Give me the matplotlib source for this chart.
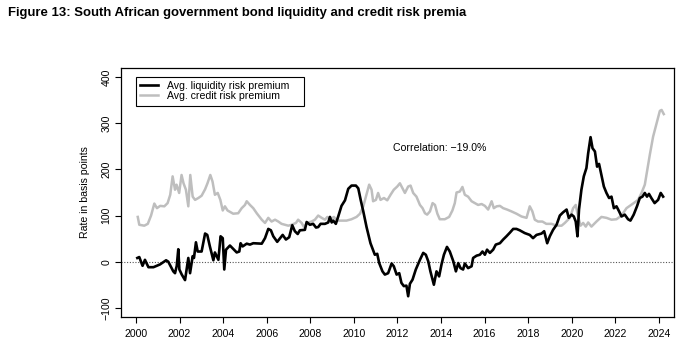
import matplotlib.pyplot as plt
from matplotlib.patches import Rectangle

plt.rcParams['font.family'] = ['Liberation Sans', 'DejaVu Sans']

# Average liquidity risk premium (bp)
liq_dates = [2000.06, 2000.15, 2000.30, 2000.41, 2000.57, 2000.80, 2001.10, 2001.38, 2001.48, 2001.71,
             2001.79, 2001.87, 2001.94, 2001.99, 2002.10, 2002.25, 2002.40, 2002.48, 2002.60, 2002.66,
             2002.75, 2002.83, 2003.01, 2003.17, 2003.27, 2003.39, 2003.55, 2003.62, 2003.78, 2003.88,
             2003.98, 2004.05, 2004.13, 2004.31, 2004.62, 2004.74, 2004.80, 2004.89, 2005.08, 2005.23,
             2005.38, 2005.77, 2005.92, 2006.07, 2006.19, 2006.30, 2006.48, 2006.73, 2006.88, 2007.03,
             2007.17, 2007.29, 2007.42, 2007.52, 2007.75, 2007.83, 2007.98, 2008.13, 2008.26, 2008.36,
             2008.47, 2008.67, 2008.82, 2008.90, 2008.98, 2009.05, 2009.17, 2009.28, 2009.43, 2009.59,
             2009.74, 2009.89, 2010.09, 2010.20, 2010.31, 2010.43, 2010.58, 2010.76, 2010.96, 2011.07,
             2011.16, 2011.31, 2011.42, 2011.57, 2011.73, 2011.83, 2011.96, 2012.08, 2012.18, 2012.29,
             2012.41, 2012.49, 2012.57, 2012.69, 2012.84, 2013.03, 2013.18, 2013.30, 2013.41, 2013.51,
             2013.67, 2013.79, 2013.91, 2014.02, 2014.13, 2014.27, 2014.40, 2014.56, 2014.68, 2014.79,
             2014.89, 2015.01, 2015.09, 2015.24, 2015.40, 2015.47, 2015.63, 2015.78, 2015.90, 2016.01,
             2016.11, 2016.24, 2016.39, 2016.51, 2016.70, 2016.85, 2017.00, 2017.16, 2017.31, 2017.46,
             2017.61, 2017.84, 2018.07, 2018.22, 2018.38, 2018.61, 2018.73, 2018.87, 2018.99, 2019.14,
             2019.30, 2019.45, 2019.60, 2019.76, 2019.86, 2019.99, 2020.09, 2020.18, 2020.26, 2020.33,
             2020.44, 2020.55, 2020.67, 2020.75, 2020.86, 2020.95, 2021.06, 2021.16, 2021.25, 2021.36,
             2021.47, 2021.59, 2021.71, 2021.82, 2021.93, 2022.05, 2022.17, 2022.28, 2022.43, 2022.58,
             2022.69, 2022.84, 2022.99, 2023.12, 2023.24, 2023.35, 2023.45, 2023.54, 2023.65, 2023.80,
             2023.96, 2024.08, 2024.19]
liq_values = [8, 10, -9, 4, -12, -12, -6, 3, 0, -21,
              -25, -9, 27, -17, -28, -40, 8, -25, 12, 8,
              42, 22, 22, 61, 58, 33, 3, 20, 4, 55,
              51, -17, 26, 35, 20, 22, 40, 33, 39, 37,
              40, 39, 51, 71, 68, 55, 43, 58, 48, 53,
              79, 66, 60, 68, 69, 86, 80, 82, 74, 75,
              82, 82, 85, 97, 85, 89, 82, 98, 121, 133,
              158, 165, 165, 159, 134, 109, 75, 40, 15, 17,
              -3, -21, -28, -25, -4, -10, -28, -25, -46, -53,
              -52, -75, -48, -39, -17, 4, 19, 15, 1, -21,
              -50, -21, -32, -6, 15, 32, 22, 1, -21, -3,
              -14, -17, -4, -14, -10, 8, 13, 15, 22, 15,
              26, 19, 26, 37, 40, 48, 55, 63, 71, 71,
              68, 62, 58, 51, 58, 61, 66, 40, 55, 69,
              80, 100, 107, 113, 95, 102, 98, 87, 55, 113,
              156, 185, 203, 235, 270, 246, 239, 206, 212, 188,
              163, 149, 138, 141, 116, 120, 109, 98, 102, 92,
              89, 102, 120, 138, 141, 149, 141, 147, 138, 127,
              134, 149, 141]

# Average credit risk premium (bp)
cred_dates = [2000.08, 2000.15, 2000.38, 2000.54, 2000.69, 2000.84, 2000.96, 2001.11, 2001.30, 2001.45,
              2001.57, 2001.68, 2001.79, 2001.86, 2001.98, 2002.09, 2002.18, 2002.29, 2002.40, 2002.49,
              2002.60, 2002.71, 2002.86, 2003.01, 2003.17, 2003.28, 2003.41, 2003.51, 2003.62, 2003.75,
              2003.87, 2003.98, 2004.08, 2004.20, 2004.35, 2004.46, 2004.69, 2004.85, 2005.00, 2005.08,
              2005.23, 2005.38, 2005.54, 2005.77, 2005.92, 2006.07, 2006.22, 2006.38, 2006.53, 2006.68,
              2006.83, 2006.99, 2007.14, 2007.34, 2007.44, 2007.60, 2007.71, 2007.86, 2008.06, 2008.21,
              2008.36, 2008.52, 2008.67, 2008.78, 2008.93, 2009.08, 2009.23, 2009.43, 2009.66, 2009.89,
              2010.12, 2010.28, 2010.43, 2010.55, 2010.70, 2010.81, 2010.88, 2011.01, 2011.11, 2011.22,
              2011.38, 2011.53, 2011.68, 2011.83, 2011.99, 2012.11, 2012.23, 2012.34, 2012.49, 2012.60,
              2012.72, 2012.87, 2013.03, 2013.15, 2013.26, 2013.36, 2013.49, 2013.61, 2013.72, 2013.83,
              2013.94, 2014.17, 2014.37, 2014.52, 2014.63, 2014.71, 2014.86, 2014.98, 2015.09, 2015.24,
              2015.40, 2015.55, 2015.70, 2015.86, 2016.01, 2016.16, 2016.32, 2016.42, 2016.55, 2016.70,
              2016.85, 2017.03, 2017.23, 2017.46, 2017.69, 2017.92, 2018.07, 2018.19, 2018.30, 2018.45,
              2018.65, 2018.83, 2019.07, 2019.30, 2019.53, 2019.68, 2019.91, 2020.06, 2020.18, 2020.29,
              2020.40, 2020.52, 2020.64, 2020.75, 2020.90, 2021.13, 2021.36, 2021.59, 2021.82, 2022.05,
              2022.28, 2022.51, 2022.66, 2022.84, 2023.04, 2023.20, 2023.35, 2023.45, 2023.58, 2023.73,
              2023.89, 2024.04, 2024.12, 2024.22]
cred_values = [97, 80, 78, 82, 100, 126, 116, 121, 120, 127,
               145, 185, 156, 167, 149, 188, 170, 156, 120, 188,
               141, 134, 138, 143, 157, 170, 188, 174, 145, 149,
               134, 111, 120, 111, 107, 104, 105, 116, 123, 131,
               123, 116, 105, 91, 84, 95, 87, 91, 87, 82,
               80, 78, 80, 84, 91, 84, 75, 84, 87, 91,
               100, 95, 91, 97, 92, 97, 89, 89, 89, 92,
               97, 104, 120, 141, 167, 156, 131, 134, 149, 134,
               138, 133, 145, 156, 163, 170, 159, 149, 163, 165,
               149, 141, 123, 116, 105, 102, 109, 127, 123, 104,
               92, 92, 97, 111, 127, 150, 152, 162, 145, 141,
               131, 127, 123, 125, 121, 113, 131, 116, 120, 121,
               116, 113, 109, 104, 98, 95, 120, 109, 91, 87,
               87, 82, 82, 78, 78, 84, 95, 116, 123, 98,
               78, 84, 76, 85, 76, 87, 97, 95, 91, 92,
               100, 116, 121, 127, 134, 149, 167, 195, 232, 271,
               300, 327, 329, 320]

correlation_text = "Correlation: \u221219.0%"
x_ticks = list(range(2000, 2025, 2))
y_ticks = [-100, 0, 100, 200, 300, 400]

fig = plt.figure(figsize=(6.87, 3.49), dpi=100)
fig.text(0.012, 0.962, "Figure 13: South African government bond liquidity and credit risk premia",
         fontsize=9.45, fontweight='bold', ha='left', va='center')

ax = fig.add_axes([0.1761, 0.0917, 0.805, 0.7135])
ax.plot(cred_dates, cred_values, color='#bebebe', linewidth=1.8, label='Avg. credit risk premium', zorder=2)
ax.plot(liq_dates, liq_values, color='black', linewidth=1.9, label='Avg. liquidity risk premium', zorder=3)
ax.axhline(0, color='#555555', linestyle=(0, (1, 1.5)), linewidth=0.8, zorder=1)

ax.set_xlim(1999.31, 2024.69)
ax.set_ylim(-120, 420)
ax.set_xticks(x_ticks)
ax.set_yticks(y_ticks)
ax.tick_params(axis='both', direction='out', length=4, width=0.8, labelsize=7.6)
ax.tick_params(axis='x', pad=5)
ax.tick_params(axis='y', pad=3)
for lab in ax.get_yticklabels():
    lab.set_rotation(90)
    lab.set_va('center')
for s in ax.spines.values():
    s.set_linewidth(0.9)
ax.set_ylabel("Rate in basis points", fontsize=7.6, labelpad=8)

ax.text(2011.8, 247, correlation_text, fontsize=7.6, ha='left', va='center')

# legend box drawn separately so its right margin can be wider
handles, labels = ax.get_legend_handles_labels()
ax.legend(handles[::-1], labels[::-1], loc='upper left', bbox_to_anchor=(0.029, 0.962),
          fontsize=7.6, frameon=False, borderpad=0.3, labelspacing=0.0,
          handlelength=1.7, handletextpad=0.8, borderaxespad=0)
ax.add_patch(Rectangle((0.0271, 0.847), 0.304, 0.117, transform=ax.transAxes,
                       fill=False, edgecolor='black', linewidth=0.8, zorder=5))

fig.savefig("out.png", dpi=100)
